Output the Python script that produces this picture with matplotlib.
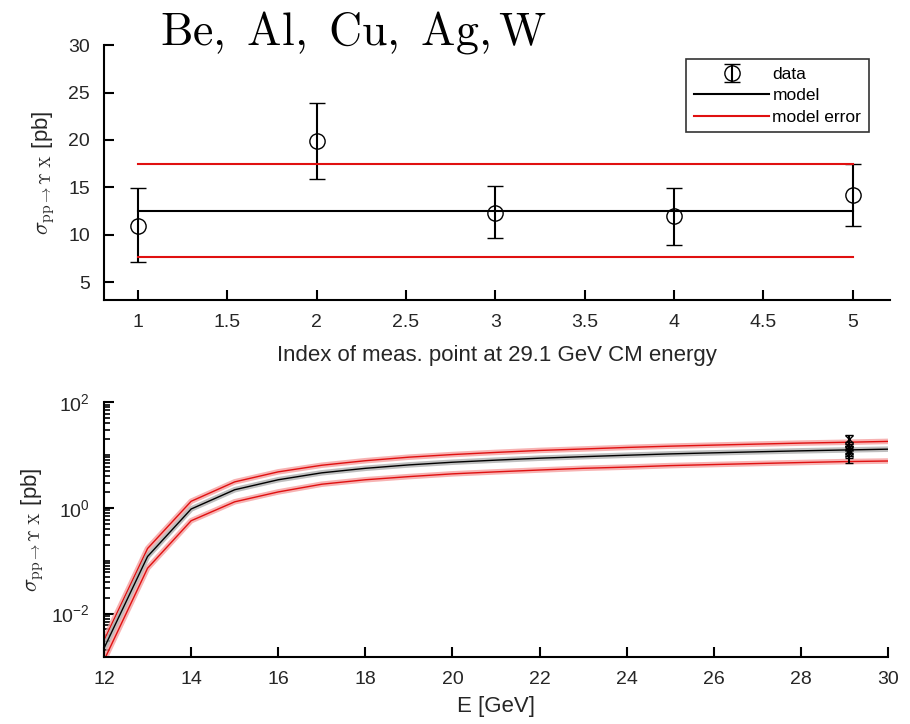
import numpy as np
import matplotlib
matplotlib.use("Agg")
import matplotlib.pyplot as plt
from matplotlib.ticker import FixedLocator, LogLocator, NullFormatter

plt.rcParams['font.family'] = ['Liberation Sans', 'DejaVu Sans']
plt.rcParams['mathtext.fontset'] = 'cm'

# measurements at 29.1 GeV CM energy (Be, Al, Cu, Ag, W)
meas_idx = [1, 2, 3, 4, 5]
meas_val = [10.9, 19.9, 12.25, 11.96, 14.18]
meas_lo = [7.08, 15.86, 9.67, 8.87, 10.9]
meas_hi = [14.88, 23.9, 15.13, 14.88, 17.45]
model_val = 12.5
model_err_lo = 7.6
model_err_hi = 17.45

# model energy dependence
energy = [12, 13, 14, 15, 16, 17, 18, 19, 20, 21, 22, 23, 24, 25, 26, 27, 28, 29, 30]
model_curve = [0.0022, 0.12, 0.95, 2.2, 3.4, 4.6, 5.6, 6.5, 7.3, 8.0, 8.7,
               9.3, 9.9, 10.5, 11.0, 11.5, 12.0, 12.45, 12.9]
model_curve_hi = [0.0031, 0.17, 1.33, 3.1, 4.8, 6.4, 7.8, 9.1, 10.2, 11.2, 12.2,
                  13.0, 13.9, 14.7, 15.4, 16.1, 16.8, 17.4, 18.1]
model_curve_lo = [0.0013, 0.072, 0.57, 1.3, 2.0, 2.8, 3.4, 3.9, 4.4, 4.8, 5.2,
                  5.6, 5.9, 6.3, 6.6, 6.9, 7.2, 7.5, 7.7]
meas_energy = 29.1

ylab = r'$\sigma_{\mathrm{pp}\rightarrow\Upsilon\ \mathrm{X}}$ [pb]'
txt = '#262626'

fig = plt.figure(figsize=(9.1, 7.24), dpi=100)

# ---- top panel: individual measurements vs model
ax1 = fig.add_axes([0.1143, 0.5856, 0.864, 0.352])
yerr = [np.array(meas_val) - np.array(meas_lo), np.array(meas_hi) - np.array(meas_val)]
h_data = ax1.errorbar(meas_idx, meas_val, yerr=yerr, fmt='o', mfc='none', mec='k', color='k',
                      ms=11, mew=1.0, elinewidth=1.5, capsize=6, capthick=1.5)
h_model, = ax1.plot([meas_idx[0], meas_idx[-1]], [model_val, model_val], color='k', lw=1.5)
h_err, = ax1.plot([meas_idx[0], meas_idx[-1]], [model_err_hi, model_err_hi], color='#e01010', lw=1.5)
ax1.plot([meas_idx[0], meas_idx[-1]], [model_err_lo, model_err_lo], color='#e01010', lw=1.5)
ax1.set_xlim(0.81, 5.21)
ax1.set_ylim(3.1, 30)
ax1.set_xticks(np.arange(1, 5.01, 0.5))
ax1.set_xticklabels(['1', '1.5', '2', '2.5', '3', '3.5', '4', '4.5', '5'])
ax1.set_yticks([5, 10, 15, 20, 25, 30])
ax1.set_xlabel('Index of meas. point at 29.1 GeV CM energy', fontsize=16, color=txt,
               labelpad=10)
ax1.set_ylabel(ylab, fontsize=16, color=txt, labelpad=8)
leg = ax1.legend([h_data, h_model, h_err], ['data', 'model', 'model error'],
                 loc='upper right', bbox_to_anchor=(0.973, 0.945), fontsize=12.5,
                 frameon=True, fancybox=False, edgecolor='k', handlelength=4.3,
                 handletextpad=0.2, borderpad=0.45, labelspacing=0.35, borderaxespad=0)
leg.get_frame().set_linewidth(1.2)
fig.text(0.176, 0.955, r'$\mathrm{Be,\ Al,\ Cu,\ Ag,W}$', fontsize=33,
         ha='left', va='center')

# ---- bottom panel: energy dependence
ax2 = fig.add_axes([0.1143, 0.0925, 0.8615, 0.352])
for ys, c, halo in [(model_curve_hi, '#e01010', '#f5a0a0'),
                    (model_curve_lo, '#e01010', '#f5a0a0'),
                    (model_curve, 'k', '#b0b0b0')]:
    ax2.plot(energy, ys, color=halo, lw=4, alpha=0.8, solid_capstyle='butt')
    ax2.plot(energy, ys, color=c, lw=1.0)
ax2.errorbar([meas_energy] * len(meas_val), meas_val, yerr=yerr, fmt='x', color='k',
             ms=6, mew=1.0, elinewidth=1.5, capsize=3, capthick=1.5)
ax2.set_yscale('log')
ax2.set_xlim(12, 30)
ax2.set_ylim(1.5e-3, 100)
ax2.set_xticks(np.arange(12, 31, 2))
ax2.yaxis.set_major_locator(FixedLocator([1e-2, 1e0, 1e2]))
ax2.yaxis.set_minor_locator(LogLocator(base=10, subs=np.arange(1, 10), numticks=20))
ax2.yaxis.set_minor_formatter(NullFormatter())
ax2.set_xlabel('E [GeV]', fontsize=16, color=txt, labelpad=6)
ax2.set_ylabel(ylab, fontsize=16, color=txt, labelpad=4)

for ax in (ax1, ax2):
    ax.spines['top'].set_visible(False)
    ax.spines['right'].set_visible(False)
    ax.spines['left'].set_linewidth(1.5)
    ax.spines['bottom'].set_linewidth(1.5)
    ax.tick_params(direction='in', length=7, width=1.5, labelsize=14, labelcolor=txt,
                   pad=10)
    ax.tick_params(which='minor', direction='in', length=4, width=1.2)

fig.savefig('out.png', dpi=100)
